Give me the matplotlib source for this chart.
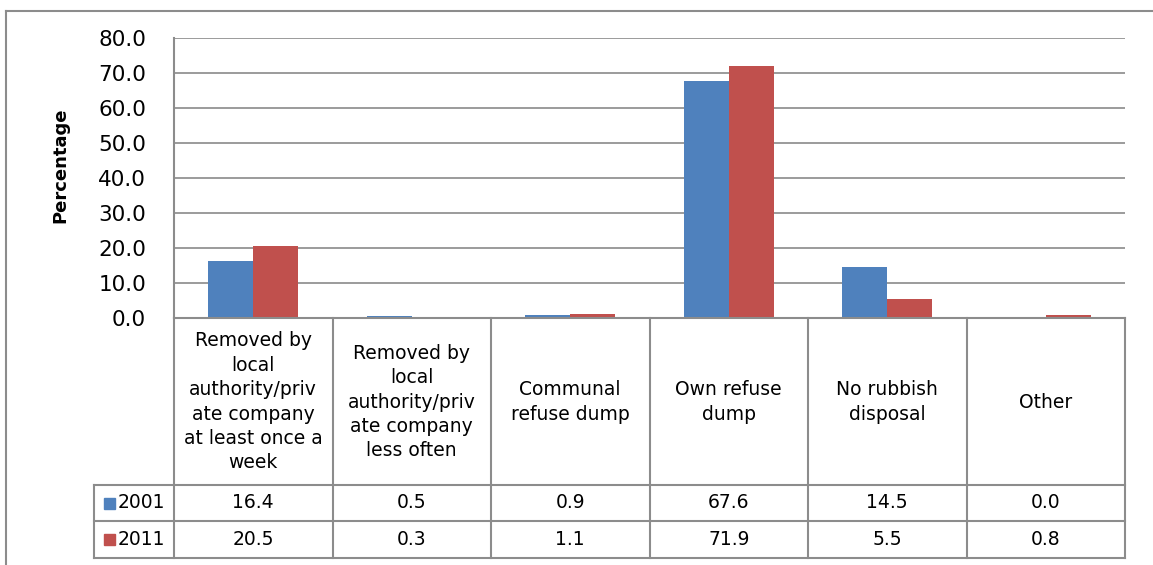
import numpy as np
import matplotlib
matplotlib.use("Agg")
import matplotlib.pyplot as plt
import matplotlib.transforms as mtransforms
from matplotlib.lines import Line2D
from matplotlib.patches import Rectangle

# refuse disposal method, share of households (%)
categories = [
    "Removed by\nlocal\nauthority/priv\nate company\nat least once a\nweek",
    "Removed by\nlocal\nauthority/priv\nate company\nless often",
    "Communal\nrefuse dump",
    "Own refuse\ndump",
    "No rubbish\ndisposal",
    "Other",
]
years = ["2001", "2011"]
pct_2001 = [16.4, 0.5, 0.9, 67.6, 14.5, 0.0]
pct_2011 = [20.5, 0.3, 1.1, 71.9, 5.5, 0.8]
yticks = [0, 10, 20, 30, 40, 50, 60, 70, 80]

colors = ["#4F81BD", "#C0504D"]
grid_col = "#8A8A8A"
line_col = "#8C8C8C"
font = "DejaVu Sans"

W, H = 1153, 565
fig = plt.figure(figsize=(W / 100, H / 100), dpi=100)
# plot area in pixels: left 174, right 1125, top 38, bottom 318
ax = fig.add_axes([174 / W, 1 - 318 / H, 951 / W, 280 / H])

x = np.arange(len(categories))
bw = 0.284
ax.bar(x - bw / 2, pct_2001, bw, color=colors[0], zorder=3)
ax.bar(x + bw / 2, pct_2011, bw, color=colors[1], zorder=3)

ax.set_xlim(-0.5, len(categories) - 0.5)
ax.set_ylim(0, 80)
ax.set_xticks([])
ax.set_yticks(yticks)
ax.set_yticklabels([f"{v:.1f}" for v in yticks], fontsize=15.5, family=font)
ax.tick_params(axis="y", length=0, pad=20)
ax.yaxis.grid(True, color=grid_col, lw=1.2)
ax.set_axisbelow(True)
for side in ["top", "right"]:
    ax.spines[side].set_visible(False)
for side in ["left", "bottom"]:
    ax.spines[side].set_color(line_col)
    ax.spines[side].set_linewidth(1.5)
    ax.spines[side].set_zorder(4)

fig.text(60 / W, 1 - 165 / H, "Percentage", rotation=90, ha="center",
         va="center", fontsize=13, fontweight="bold", family=font)

# data table under the axis: x follows categories, y in axes fraction
tr = mtransforms.blended_transform_factory(ax.transData, ax.transAxes)


def ya(py):
    return (318 - py) / 280


cell_w = 158.5
x_leg = -0.5 - 80 / cell_w
row_tops = [318, 485, 521, 558]
n = len(categories)

for b in np.arange(-0.5, n, 1.0):
    ax.add_line(Line2D([b, b], [ya(318), ya(558)], transform=tr,
                       color=line_col, lw=1.5, clip_on=False))
for py in row_tops[1:]:
    ax.add_line(Line2D([x_leg, n - 0.5], [ya(py), ya(py)], transform=tr,
                       color=line_col, lw=1.5, clip_on=False))
ax.add_line(Line2D([x_leg, x_leg], [ya(485), ya(558)], transform=tr,
                   color=line_col, lw=1.5, clip_on=False))

for i, label in enumerate(categories):
    ax.text(i, ya(402), label, transform=tr, ha="center", va="center",
            fontsize=13.5, family=font, linespacing=1.36, clip_on=False)

for r, (year, vals, col) in enumerate(zip(years, [pct_2001, pct_2011], colors)):
    yc = (row_tops[r + 1] + row_tops[r + 2]) / 2
    for i, v in enumerate(vals):
        ax.text(i, ya(yc), f"{v:.1f}", transform=tr, ha="center",
                va="center", fontsize=13.5, family=font, clip_on=False)
    sq_x = -0.5 + (104 - 174) / cell_w
    ax.add_patch(Rectangle((sq_x, ya(yc + 5.5)), 11 / cell_w, 11 / 280,
                           transform=tr, color=col, clip_on=False))
    ax.text(-0.5 + (118 - 174) / cell_w, ya(yc), year, transform=tr,
            ha="left", va="center", fontsize=13.5, family=font,
            clip_on=False)

# chart frame
fig.add_artist(Line2D([6 / W, 1], [1 - 11 / H, 1 - 11 / H],
                      transform=fig.transFigure, color=line_col, lw=1.5))
fig.add_artist(Line2D([6 / W, 6 / W], [1 - 11 / H, 0],
                      transform=fig.transFigure, color=line_col, lw=1.5))

fig.savefig("out.png", dpi=100)
